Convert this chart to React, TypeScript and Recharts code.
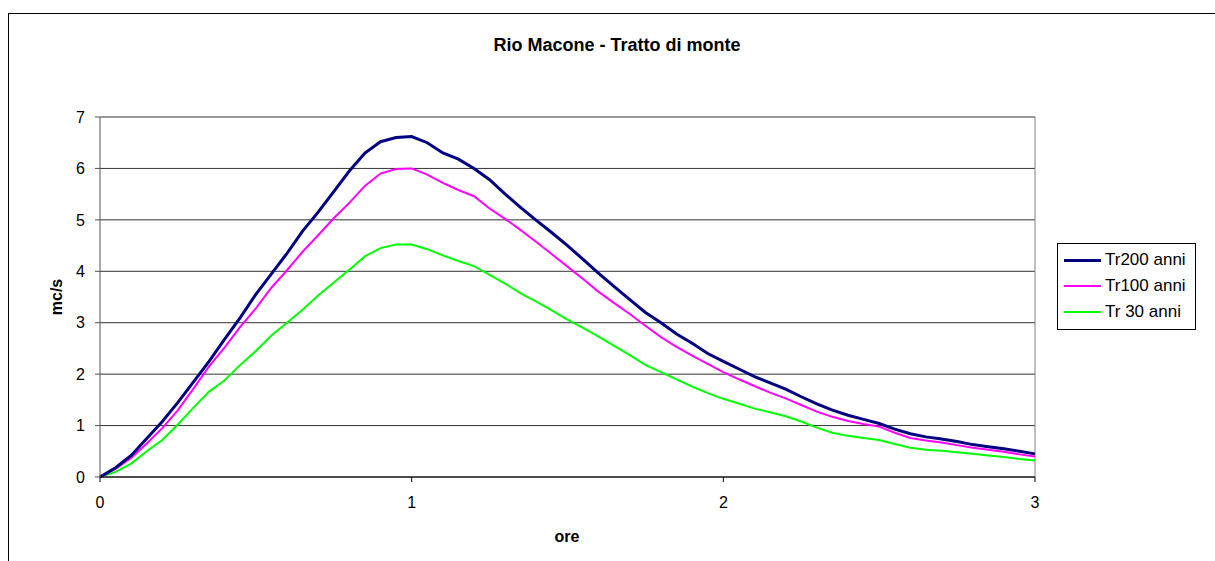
import {
  LineChart,
  Line,
  XAxis,
  YAxis,
  CartesianGrid,
  ReferenceLine,
  Legend,
} from "recharts";

// ore (hours)
const hours = [
  0, 0.05, 0.1, 0.15, 0.2, 0.25, 0.3, 0.35, 0.4, 0.45, 0.5, 0.55, 0.6, 0.65,
  0.7, 0.75, 0.8, 0.85, 0.9, 0.95, 1, 1.05, 1.1, 1.15, 1.2, 1.25, 1.3, 1.35,
  1.4, 1.45, 1.5, 1.55, 1.6, 1.65, 1.7, 1.75, 1.8, 1.85, 1.9, 1.95, 2, 2.05,
  2.1, 2.15, 2.2, 2.25, 2.3, 2.35, 2.4, 2.45, 2.5, 2.55, 2.6, 2.65, 2.7, 2.75,
  2.8, 2.85, 2.9, 2.95, 3,
];

// mc/s
const tr200 = [
  0, 0.18, 0.42, 0.75, 1.08, 1.45, 1.85, 2.25, 2.68, 3.1, 3.55, 3.95, 4.35,
  4.78, 5.15, 5.55, 5.95, 6.3, 6.52, 6.6, 6.62, 6.5, 6.3, 6.18, 6.0, 5.78, 5.5,
  5.24, 4.99, 4.75, 4.5, 4.23, 3.96, 3.7, 3.45, 3.2, 3.0, 2.78, 2.6, 2.4, 2.25,
  2.1, 1.95, 1.83, 1.71, 1.56, 1.42, 1.3, 1.2, 1.12, 1.04, 0.93, 0.84, 0.78,
  0.74, 0.69, 0.63, 0.59, 0.55, 0.5, 0.45,
];

const tr100 = [
  0, 0.16, 0.37, 0.65, 0.95, 1.3, 1.72, 2.15, 2.52, 2.92, 3.28, 3.68, 4.02,
  4.38, 4.7, 5.03, 5.33, 5.66, 5.9, 5.99, 6.0, 5.88, 5.72, 5.58, 5.46, 5.22,
  5.02, 4.8, 4.57, 4.33, 4.09, 3.85, 3.6, 3.38, 3.17, 2.94, 2.72, 2.53, 2.36,
  2.2, 2.04, 1.9, 1.77, 1.64, 1.53, 1.4, 1.27, 1.17, 1.09, 1.03, 0.98, 0.86,
  0.76, 0.71, 0.67, 0.62, 0.57, 0.53, 0.49, 0.44, 0.4,
];

const tr30 = [
  0, 0.1, 0.26, 0.5, 0.72, 1.02, 1.35, 1.66, 1.88, 2.18, 2.45, 2.75, 3.0, 3.25,
  3.53, 3.78, 4.03, 4.29, 4.45, 4.52, 4.52, 4.43, 4.31, 4.2, 4.1, 3.93, 3.76,
  3.57, 3.41, 3.24, 3.06, 2.9, 2.73, 2.55, 2.37, 2.18, 2.04, 1.9, 1.76, 1.63,
  1.52, 1.43, 1.33, 1.26, 1.18, 1.08, 0.96, 0.86, 0.8, 0.76, 0.72, 0.64, 0.57,
  0.53, 0.51, 0.48, 0.45, 0.42, 0.39, 0.35, 0.32,
];

const xTicks = [0, 1, 2, 3];
const yTicks = [0, 1, 2, 3, 4, 5, 6, 7];

const series = [
  { key: "tr200", name: "Tr200 anni", color: "#000080", width: 3 },
  { key: "tr100", name: "Tr100 anni", color: "#FF00FF", width: 2 },
  { key: "tr30", name: "Tr 30 anni", color: "#00FF00", width: 2 },
];

const data = hours.map((t, i) => ({
  t,
  tr200: tr200[i],
  tr100: tr100[i],
  tr30: tr30[i],
}));

const FONT = "Arial, 'Liberation Sans', sans-serif";

function LegendBox() {
  return (
    <div
      style={{
        border: "1px solid #000",
        background: "#fff",
        padding: "3px 0 4px 6px",
        width: 131,
        fontFamily: FONT,
        fontSize: 17,
        color: "#000",
      }}
    >
      {series.map((s) => (
        <div
          key={s.key}
          style={{ display: "flex", alignItems: "center", height: 26 }}
        >
          <span
            style={{
              display: "inline-block",
              width: 37,
              height: s.width,
              background: s.color,
              marginRight: 4,
            }}
          />
          <span>{s.name}</span>
        </div>
      ))}
    </div>
  );
}

export default function App() {
  return (
    <div
      style={{
        position: "absolute",
        left: 0,
        top: 0,
        width: 1215,
        height: 561,
        background: "#fff",
        fontFamily: FONT,
        overflow: "hidden",
      }}
    >
      <div
        style={{
          position: "absolute",
          left: 8,
          top: 13,
          width: 1207,
          height: 548,
          borderTop: "1px solid #000",
          borderLeft: "1px solid #000",
          boxSizing: "border-box",
        }}
      />
      <LineChart
        width={1215}
        height={561}
        data={data}
        margin={{ top: 117, right: 180, bottom: 44, left: 40 }}
      >
        <CartesianGrid
          horizontal
          vertical={false}
          stroke="#333"
          strokeWidth={1}
        />
        <XAxis
          dataKey="t"
          type="number"
          domain={[0, 3]}
          ticks={xTicks}
          height={40}
          tickSize={5}
          tickMargin={15}
          axisLine={{ stroke: "#000" }}
          tickLine={{ stroke: "#000" }}
          tick={{ fill: "#000", fontSize: 16, fontFamily: FONT }}
        />
        <YAxis
          type="number"
          domain={[0, 7]}
          ticks={yTicks}
          width={60}
          tickSize={5}
          tickMargin={10}
          axisLine={{ stroke: "#555" }}
          tickLine={{ stroke: "#555" }}
          tick={{ fill: "#000", fontSize: 16, fontFamily: FONT }}
        />
        <ReferenceLine x={3} stroke="#808080" />
        <Line
          type="linear"
          dataKey="tr30"
          name="Tr 30 anni"
          stroke="#00FF00"
          strokeWidth={2}
          dot={false}
          isAnimationActive={false}
        />
        <Line
          type="linear"
          dataKey="tr100"
          name="Tr100 anni"
          stroke="#FF00FF"
          strokeWidth={2}
          dot={false}
          isAnimationActive={false}
        />
        <Line
          type="linear"
          dataKey="tr200"
          name="Tr200 anni"
          stroke="#000080"
          strokeWidth={3}
          dot={false}
          isAnimationActive={false}
        />
        <Legend
          layout="vertical"
          align="center"
          verticalAlign="middle"
          wrapperStyle={{ left: 1057, top: 243, width: 138 }}
          content={() => <LegendBox />}
        />
      </LineChart>
      <div
        style={{
          position: "absolute",
          left: 117,
          top: 35,
          width: 1000,
          textAlign: "center",
          fontWeight: "bold",
          fontSize: 18,
          lineHeight: "20px",
        }}
      >
        Rio Macone - Tratto di monte
      </div>
      <div
        style={{
          position: "absolute",
          left: 57,
          top: 297,
          transform: "translate(-50%, -50%) rotate(-90deg)",
          fontWeight: "bold",
          fontSize: 16,
          whiteSpace: "nowrap",
        }}
      >
        mc/s
      </div>
      <div
        style={{
          position: "absolute",
          left: 567,
          top: 537,
          transform: "translate(-50%, -50%)",
          fontWeight: "bold",
          fontSize: 16,
        }}
      >
        ore
      </div>
    </div>
  );
}
